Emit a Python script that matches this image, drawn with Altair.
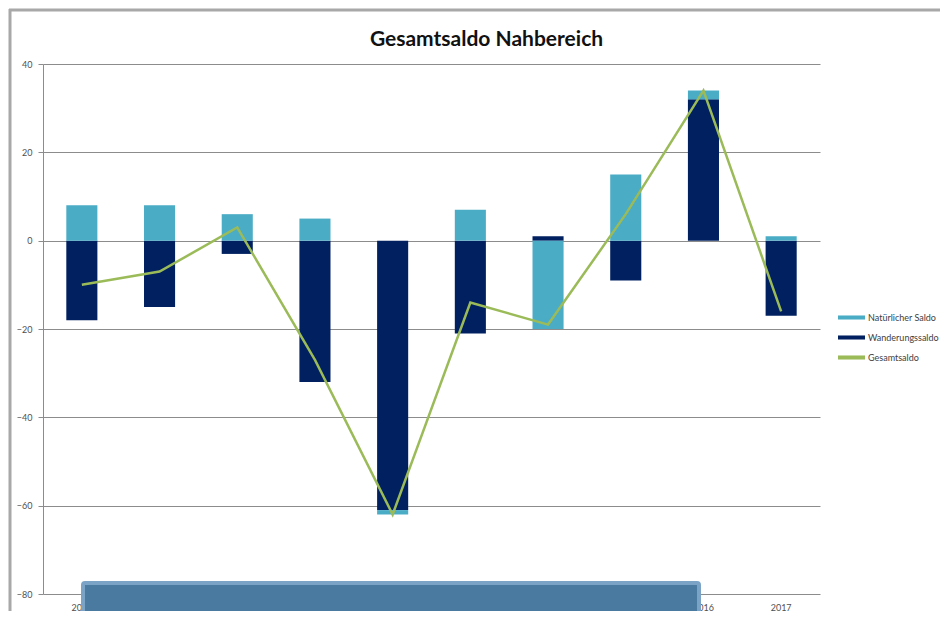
import altair as alt
import pandas as pd

years = ["2008", "2009", "2010", "2011", "2012", "2013", "2014", "2015", "2016", "2017"]
natuerlich = [8, 8, 6, 5, -1, 7, -20, 15, 2, 1]
wanderung = [-18, -15, -3, -32, -61, -21, 1, -9, 32, -17]
gesamt = [-10, -7, 3, -27, -62, -14, -19, 6, 34, -16]

series_names = ["Natürlicher Saldo", "Wanderungssaldo", "Gesamtsaldo"]
series_colors = ["#4BACC6", "#002060", "#9BBB59"]

bar_rows = []
for y, n, w in zip(years, natuerlich, wanderung):
    bar_rows.append({"Jahr": y, "Reihe": "Wanderungssaldo", "Wert": w, "ord": 0})
    bar_rows.append({"Jahr": y, "Reihe": "Natürlicher Saldo", "Wert": n, "ord": 1})
bars_df = pd.DataFrame(bar_rows)
line_df = pd.DataFrame({"Jahr": years, "Reihe": "Gesamtsaldo", "Wert": gesamt})

W, H = 777, 530
FONT = "Lato"

x_enc = alt.X("Jahr:N", sort=years, title=None,
              scale=alt.Scale(paddingInner=0.6, paddingOuter=0.3),
              axis=alt.Axis(labelAngle=0, labelFontSize=9, labelColor="#505050",
                            labelFont=FONT, domain=False, ticks=False, labelPadding=9))
y_enc = alt.Y("Wert:Q", title=None, stack="zero",
              scale=alt.Scale(domain=[-80, 40], nice=False),
              axis=alt.Axis(values=[-80, -60, -40, -20, 0, 20, 40], labelFontSize=9,
                            labelColor="#505050", labelFont=FONT, gridColor="#8C8C8C",
                            gridWidth=1, domainColor="#8C8C8C", tickColor="#8C8C8C",
                            tickSize=5, labelPadding=6))
color_enc = alt.Color("Reihe:N",
                      scale=alt.Scale(domain=series_names, range=series_colors),
                      legend=alt.Legend(title=None, orient="none", legendX=795, legendY=240,
                                        symbolType="M-1,-0.15H1V0.15H-1Z", symbolSize=729,
                                        symbolStrokeWidth=0, labelFontSize=9,
                                        labelColor="#404040", labelFont=FONT,
                                        rowPadding=1, labelOffset=3))

bars = alt.Chart(bars_df).mark_bar().encode(
    x=x_enc, y=y_enc, color=color_enc, order=alt.Order("ord:Q")
)
line = alt.Chart(line_df).mark_line(strokeWidth=2.5).encode(
    x=alt.X("Jahr:N", sort=years), y=alt.Y("Wert:Q"), color=alt.Color("Reihe:N")
)

deco_df = pd.DataFrame({"k": [0]})
frame_top = alt.Chart(deco_df).mark_rule(color="#A8A8A8", strokeWidth=3).encode(
    x=alt.value(-34), x2=alt.value(900), y=alt.value(-54)
)
frame_left = alt.Chart(deco_df).mark_rule(color="#A8A8A8", strokeWidth=3).encode(
    x=alt.value(-33), y=alt.value(-55), y2=alt.value(560)
)
overlay = alt.Chart(deco_df).mark_rect(fill="#4A7AA0", stroke="#7AA3C6", strokeWidth=4,
                                       cornerRadius=2).encode(
    x=alt.value(40), x2=alt.value(656), y=alt.value(519), y2=alt.value(565)
)

chart = alt.layer(bars, line, frame_top, frame_left, overlay).properties(
    width=W, height=H,
    title=alt.Title("Gesamtsaldo Nahbereich", fontSize=21, font="Lato", fontWeight="bold",
                    color="#111111", anchor="middle", dx=55, offset=0, dy=59,
                    baseline="alphabetic"),
    autosize=alt.AutoSizeParams(type="none"),
    padding={"left": 35, "top": 56, "right": 120, "bottom": 17},
    background="white",
).configure_view(stroke=None)

chart.save("out.html", embed_options={"renderer": "svg", "actions": False})
